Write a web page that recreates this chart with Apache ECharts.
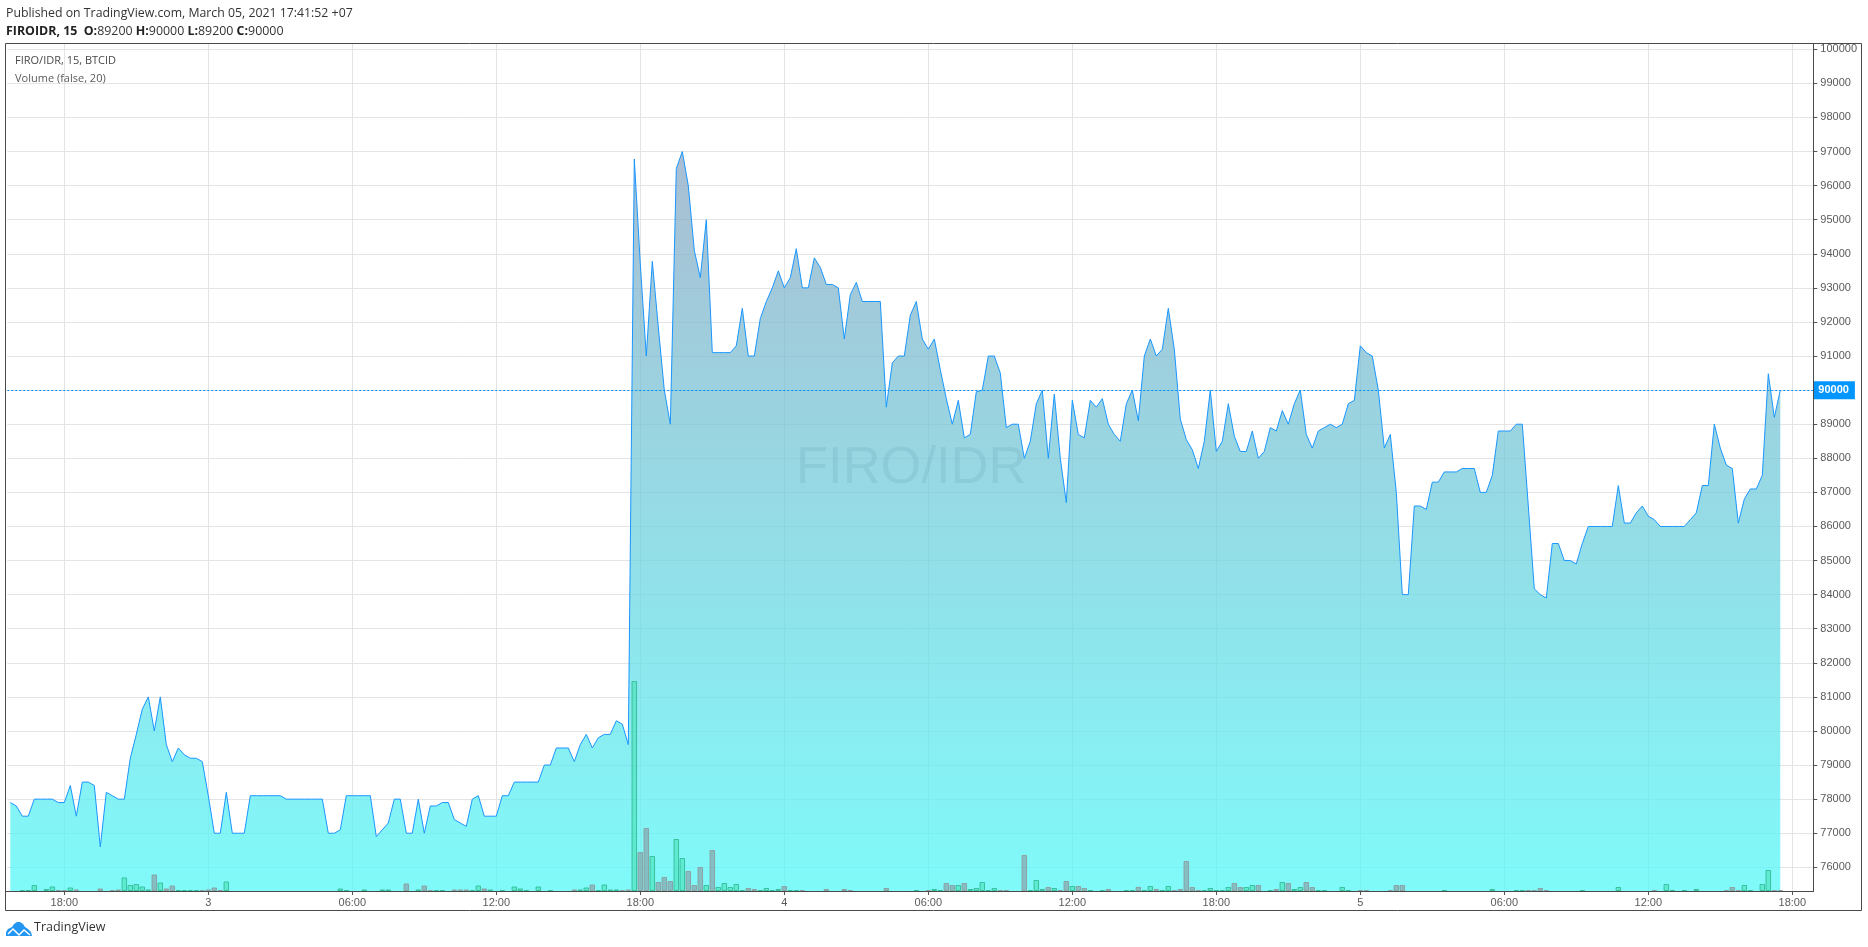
<!DOCTYPE html>
<html><head><meta charset="utf-8">
<style>html,body{margin:0;padding:0;background:#fff}#c{width:1868px;height:947px}</style>
<script src="https://cdn.jsdelivr.net/npm/echarts@6/dist/echarts.min.js"></script>
</head><body><div id="c"></div>
<script>
// 15-minute closes from 15:45 on 2 March to 17:30 on 5 March
const closes = [
77900,77800,77500,77500,78000,78000,78000,78000,77900,77900,
78400,77500,78500,78500,78400,76600,78200,78100,78000,78000,
79200,79900,80640,81000,80000,81000,79600,79100,79500,79300,
79200,79200,79100,78100,77000,77000,78200,77000,77000,77000,
78100,78100,78100,78100,78100,78100,78000,78000,78000,78000,
78000,78000,78000,77000,77000,77100,78100,78100,78100,78100,
78100,76900,77100,77300,78000,78000,77000,77000,78000,77000,
77800,77800,77900,77900,77400,77300,77200,78000,78100,77500,
77500,77500,78100,78100,78500,78500,78500,78500,78500,79000,
79000,79500,79500,79500,79100,79600,79900,79500,79800,79900,
79900,80300,80200,79600,96780,93700,91000,93780,91850,90000,
89000,96500,97000,96000,94100,93300,95000,91100,91100,91100,
91100,91300,92400,91000,91000,92100,92600,93000,93500,93000,
93300,94150,93000,93000,93880,93600,93100,93100,93000,91500,
92800,93160,92600,92600,92600,92600,89500,90800,91000,91000,
92200,92600,91500,91200,91500,90600,89750,89000,89700,88600,
88700,89950,90000,91000,91000,90500,88900,89000,89000,88000,
88500,89600,90000,88000,89880,88000,86700,89700,88700,88600,
89700,89500,89750,89000,88700,88500,89600,90000,89100,91000,
91500,91000,91200,92400,91200,89150,88550,88250,87700,88500,
90000,88200,88500,89600,88650,88200,88200,88800,88000,88200,
88900,88800,89400,89000,89600,90000,88700,88300,88800,88900,
89000,88900,89000,89600,89700,91300,91100,91000,90000,88300,
88700,87000,84000,84000,86600,86600,86500,87300,87300,87600,
87600,87600,87700,87700,87700,87000,87000,87500,88800,88800,
88800,89000,89000,86600,84170,84000,83900,85500,85500,85000,
85000,84900,85500,86000,86000,86000,86000,86000,87200,86100,
86100,86400,86600,86300,86200,86000,86000,86000,86000,86000,
86200,86400,87200,87200,89000,88300,87800,87700,86100,86800,
87100,87100,87500,90480,89200,90000];

// volume bars as [bar number, volume]
const volumeUp = [[2,1],[3,1],[4,6],[6,2],[7,4.5],[10,3.5],[19,13.5],[20,6],[21,7],[22,4.5],[23,1.5],[25,8.5],
[28,1],[29,1],[30,1],[31,1],[36,9.5],[55,2.5],[56,1],[59,1.5],[62,1.5],[63,1.5],[68,1.5],[71,1],[72,1],[77,1],
[78,5.5],[80,1.5],[82,1],[84,4.5],[85,2.5],[86,1],[88,4.5],[90,1],[95,1.5],[96,3.5],[98,1],[99,6.5],[100,1.5],
[101,1.5],[104,210],[107,35],[111,52],[112,33],[116,6],[118,4],[119,8],[120,4],[121,7],[122,1],[125,1],[126,3],
[127,1],[128,2],[130,1],[131,1],[151,1],[154,2],[155,1],[158,6],[160,2],[161,3],[162,9],[163,1],[164,3],[170,1],
[171,11],[172,2],[174,3],[177,5],[180,1],[182,1],[186,1],[187,1],[189,1],[190,5],[192,1],[193,5],[199,1],[200,3],
[201,1],[202,1],[203,4],[206,4],[207,6],[210,1],[212,9],[214,2],[215,4],[218,1],[219,1],[222,4],[223,1],[239,1],
[247,2],[251,1],[252,1],[262,1],[268,4],[276,7],[277,1],[279,1],[281,2],[289,6],[290,1],[292,7],[293,21]];
const volumeDown = [[8,1],[9,1],[11,1.5],[15,2.5],[17,1],[18,1.5],[24,16.5],[26,2.5],[27,5.5],[32,1],[33,1.5],
[34,3.5],[35,1],[66,7.5],[69,5.5],[70,1],[74,1.5],[75,1.5],[76,1.5],[79,2.5],[94,1.5],[97,6.5],[102,1],[103,1.5],
[105,39],[106,63],[108,9],[109,14],[110,10],[113,20],[114,6],[115,24],[117,41],[123,3],[124,2],[129,5],[132,1],
[136,2],[139,2],[140,1],[146,3],[153,1],[156,8],[157,6],[159,8],[165,1],[166,1],[169,36],[173,4],[175,1],[176,10],
[178,5],[179,3],[183,2],[188,4],[191,2],[194,1],[195,2],[196,30],[197,4],[198,1],[204,8],[205,4],[208,6],[211,2],
[213,8],[216,9],[217,4],[225,1],[226,1],[230,1],[231,6],[232,6],[253,1],[254,1],[255,3],[256,1],[274,1],[286,1],
[287,4],[288,1],[294,1],[295,1]];

const tickBars = [9,33,57,81,105,129,153,177,201,225,249,273,297];
const tickLabels = ['18:00','3','06:00','12:00','18:00','4','06:00','12:00','18:00','5','06:00','12:00','18:00'];
const priceTicks = [76000,77000,78000,79000,80000,81000,82000,83000,84000,85000,86000,87000,88000,
89000,90000,91000,92000,93000,94000,95000,96000,97000,98000,99000,100000];
const priceLabels = priceTicks.filter((v) => v !== 90000);
const lastPrice = 90000;
const barCount = 301;

const categories = Array.from({length: barCount}, (_, i) => {
  const k = tickBars.indexOf(i);
  return k >= 0 ? tickLabels[k] : '';
});
const isTick = (index) => tickBars.indexOf(index) >= 0;

const chart = echarts.init(document.getElementById('c'), null, {renderer: 'canvas'});
const axisFont = {color: '#5a5a5a', fontFamily: '"Liberation Sans", Arial', fontSize: 11};
const uiFont = '"Open Sans", sans-serif';

chart.setOption({
  animation: false,
  backgroundColor: '#fff',
  grid: {left: 7.3, right: 54.7, top: 44, bottom: 56, containLabel: false},
  xAxis: {
    type: 'category', data: categories, boundaryGap: true,
    axisLine: {show: true, onZero: false, lineStyle: {color: '#444', width: 1}},
    axisTick: {show: true, alignWithLabel: true, interval: isTick, length: 4, lineStyle: {color: '#555'}},
    axisLabel: {show: true, interval: isTick, margin: 6, ...axisFont},
    splitLine: {show: true, alignWithLabel: true, interval: isTick, lineStyle: {color: '#e4e4e4', width: 1}}
  },
  yAxis: [{
    type: 'value', position: 'right', min: 75305, max: 100155, scale: true,
    axisLine: {show: true, onZero: false, lineStyle: {color: '#444', width: 1}},
    axisTick: {show: true, length: 4, customValues: priceTicks, lineStyle: {color: '#555'}},
    axisLabel: {show: true, margin: 7, customValues: priceLabels, showMinLabel: true, showMaxLabel: true,
      formatter: (v) => String(v), padding: [6, 0, 0, 0], ...axisFont},
    splitLine: {show: true, lineStyle: {color: '#e4e4e4', width: 1}}
  }, {
    type: 'value', position: 'left', min: 0, max: 847, show: false, splitLine: {show: false}
  }],
  series: [{
    name: 'FIRO/IDR', type: 'line', data: closes, showSymbol: false, symbol: 'none', z: 2,
    lineStyle: {color: '#1a96ff', width: 1},
    areaStyle: {origin: 'start', opacity: 1, color: {type: 'linear', x: 0, y: 0, x2: 0, y2: 1, colorStops: [
      {offset: 0, color: 'rgba(141,168,195,0.75)'},
      {offset: 1, color: 'rgba(85,248,248,0.75)'}]}},
    markLine: {silent: true, symbol: 'none', animation: false,
      lineStyle: {color: '#0090f5', width: 1, type: [2, 2]},
      label: {position: 'end', distance: 0, formatter: String(lastPrice), color: '#fff', fontWeight: 'bold',
        fontFamily: '"Liberation Sans", Arial', fontSize: 11, backgroundColor: '#0496ff', padding: [4, 6, 3, 5]},
      data: [{yAxis: lastPrice}]}
  }, {
    name: 'Volume rising', type: 'bar', yAxisIndex: 1, data: volumeUp, barWidth: 5.5, barGap: '-100%', z: 3,
    itemStyle: {color: 'rgba(60,220,170,0.5)', borderColor: 'rgba(50,190,150,0.9)', borderWidth: 1}
  }, {
    name: 'Volume falling', type: 'bar', yAxisIndex: 1, data: volumeDown, barWidth: 5.5, barGap: '-100%', z: 3,
    itemStyle: {color: 'rgba(135,150,160,0.6)', borderColor: 'rgba(140,160,160,0.95)', borderWidth: 1}
  }],
  graphic: [
    {type: 'rect', silent: true, z: 10, shape: {x: 5.5, y: 43.5, width: 1856, height: 867},
      style: {fill: 'none', stroke: '#4a4a4a', lineWidth: 1}},
    {type: 'line', silent: true, z: 10, shape: {x1: 1813.5, y1: 44, x2: 1813.5, y2: 891.5}, style: {stroke: '#4a4a4a', lineWidth: 1}},
    {type: 'line', silent: true, z: 10, shape: {x1: 6, y1: 891.5, x2: 1813.5, y2: 891.5}, style: {stroke: '#4a4a4a', lineWidth: 1}},
    {type: 'text', z: 10, x: 6, y: 7.5, style: {text: 'Published on TradingView.com, March 05, 2021 17:41:52 +07', fill: '#333', font: '12.3px ' + uiFont}},
    {type: 'text', z: 10, x: 6, y: 25, style: {rich: {b: {font: 'bold 12.4px ' + uiFont, fill: '#222'}, n: {font: '12.4px ' + uiFont, fill: '#333'}},
      text: '{b|FIROIDR, 15  O:}{n|89200 }{b|H:}{n|90000 }{b|L:}{n|89200 }{b|C:}{n|90000}'}},
    {type: 'text', z: 10, x: 15, y: 55.5, style: {text: 'FIRO/IDR, 15, BTCID', fill: '#4a4a4a', font: '11px ' + uiFont}},
    {type: 'text', z: 10, x: 15, y: 73, style: {text: 'Volume (false, 20)', fill: '#5a5a5a', font: '11px ' + uiFont}},
    {type: 'text', z: 4, x: 796, y: 442, style: {text: 'FIRO/IDR', fill: 'rgba(0,60,80,0.07)', font: '52.5px "Liberation Sans", Arial'}},
    {type: 'polygon', z: 10, shape: {points: [[6,936],[6,932],[8,929],[12,927],[14,924],[17,922],[20,922],[23,924],[25,927],[28,929],[31,932],[32,936]]},
      style: {fill: '#2196f3'}},
    {type: 'polyline', z: 11, shape: {points: [[8, 934], [13, 929], [19, 935], [24, 930], [30, 935]]},
      style: {fill: 'none', stroke: '#fff', lineWidth: 1.5}},
    {type: 'text', z: 10, x: 34, y: 921, style: {text: 'TradingView', fill: '#333', font: '12.5px ' + uiFont}}
  ]
});
</script></body></html>
